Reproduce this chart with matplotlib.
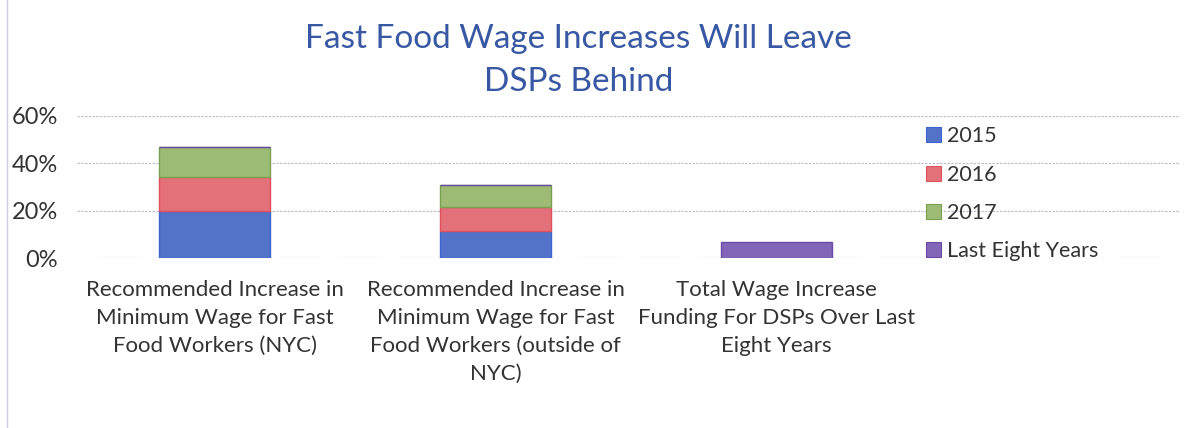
import matplotlib
matplotlib.use("Agg")
import matplotlib.pyplot as plt
from matplotlib.patches import Patch
from matplotlib.ticker import PercentFormatter

# ---------------- DATA ----------------
CATEGORIES = [
    "Recommended Increase in\nMinimum Wage for Fast\nFood Workers (NYC)",
    "Recommended Increase in\nMinimum Wage for Fast\nFood Workers (outside of\nNYC)",
    "Total Wage Increase\nFunding For DSPs Over Last\nEight Years",
]
Y2015 = [20.0, 11.4, 0.0]
Y2016 = [14.3, 10.3, 0.0]
Y2017 = [12.5, 9.3, 0.0]
LAST_EIGHT = [0.0, 0.0, 6.9]
SERIES = ["2015", "2016", "2017", "Last Eight Years"]
TITLE = "Fast Food Wage Increases Will Leave\nDSPs Behind"
# --------------------------------------

COLORS = ["#5273c8", "#e4707a", "#9dbb74", "#8466b8"]
EDGES = ["#3d64d0", "#e0505c", "#7aa050", "#6a4aa8"]
FONT = ["Lato", "DejaVu Sans"]


def main():
    plt.rcParams["font.family"] = FONT
    fig = plt.figure(figsize=(11.88, 4.28), dpi=100)
    ax = fig.add_axes([0.065, 0.397, 0.928, 0.332])

    x = range(len(CATEGORIES))
    width = 0.395
    bottom = [0.0] * len(CATEGORIES)
    for vals, col, ec in zip([Y2015, Y2016, Y2017, LAST_EIGHT], COLORS, EDGES):
        ax.bar(x, vals, width, bottom=bottom, color=col, edgecolor=ec,
               linewidth=1.0, zorder=3)
        bottom = [b + v for b, v in zip(bottom, vals)]

    ax.set_xlim(-0.49, 3.435)
    ax.set_ylim(0, 60)
    ax.set_yticks([0, 20, 40, 60])
    ax.yaxis.set_major_formatter(PercentFormatter(decimals=0))
    ax.set_xticks(list(x))
    ax.set_xticklabels(CATEGORIES, fontsize=16, color="#333333",
                       linespacing=1.5, va="top")
    ax.tick_params(axis="x", length=0, pad=16)
    ax.tick_params(axis="y", length=0, pad=14, labelsize=17,
                   labelcolor="#333333")
    ax.grid(axis="y", color="#c0c0d4", linewidth=0.9, linestyle=(0, (2, 1)),
            zorder=0)
    for s in ax.spines.values():
        s.set_visible(False)

    handles = [Patch(facecolor=c, edgecolor=e, linewidth=0.8)
               for c, e in zip(COLORS, EDGES)]
    fig.legend(handles, SERIES, loc="upper left",
               bbox_to_anchor=(0.763, 0.75), frameon=False, fontsize=15.5,
               handlelength=0.7, handleheight=0.7, handletextpad=0.3,
               labelspacing=0.85, labelcolor="#333333")

    fig.text(0.487, 0.944, TITLE, ha="center", va="top", fontsize=24,
             color="#3858a4", linespacing=1.55)

    # faint scan border on the left
    fig.add_artist(plt.Line2D([0.006, 0.006], [0.0, 1.0], color="#d0d0e4",
                              linewidth=1.0))

    fig.savefig("out.png", dpi=100)


if __name__ == "__main__":
    main()
